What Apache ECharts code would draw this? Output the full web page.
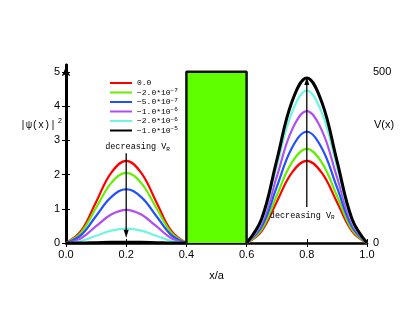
<!DOCTYPE html>
<html lang="en">
<head>
    <meta charset="UTF-8">
    <title>Double well</title>
    <script src="https://cdn.jsdelivr.net/npm/echarts@6/dist/echarts.min.js"></script>
</head>
<body style="margin:0;background:#fff;">
<div id="main" style="width: 415px;height:321px;"></div>
<script type="text/javascript">

    // x positions of the samples in each well
    var leftX  = [0, 0.05, 0.10, 0.15, 0.20, 0.25, 0.30, 0.35, 0.40];
    var rightX = [0.60, 0.65, 0.70, 0.75, 0.80, 0.85, 0.90, 0.95, 1.00];

    // legend labels (V_R values) and colours
    var names  = ['0.0', '-2.0*10^-7', '-5.0*10^-7', '-1.0*10^-6', '-2.0*10^-6', '-1.0*10^-5'];
    var colors = ['#ff0000', '#66ee00', '#2250ff', '#b04ef2', '#72f5df', '#000000'];

    // |psi|^2, left well
    var leftRed    = [0, 0.35, 1.20, 2.05, 2.40, 2.05, 1.20, 0.35, 0];
    var leftGreen  = [0, 0.30, 1.03, 1.75, 2.05, 1.75, 1.03, 0.30, 0];
    var leftBlue   = [0, 0.23, 0.79, 1.34, 1.57, 1.34, 0.79, 0.23, 0];
    var leftPurple = [0, 0.14, 0.49, 0.83, 0.97, 0.83, 0.49, 0.14, 0];
    var leftCyan   = [0, 0.06, 0.21, 0.36, 0.42, 0.36, 0.21, 0.06, 0];
    var leftBlack  = [0, 0.00, 0.01, 0.02, 0.02, 0.02, 0.01, 0.00, 0];

    // right well
    var rightRed    = [0, 0.35, 1.20, 2.05, 2.40, 2.05, 1.20, 0.35, 0];
    var rightGreen  = [0, 0.40, 1.38, 2.35, 2.75, 2.35, 1.38, 0.40, 0];
    var rightBlue   = [0, 0.48, 1.63, 2.77, 3.25, 2.77, 1.63, 0.48, 0];
    var rightPurple = [0, 0.56, 1.93, 3.29, 3.85, 3.29, 1.93, 0.56, 0];
    var rightCyan   = [0, 0.65, 2.23, 3.80, 4.45, 3.80, 2.23, 0.65, 0];
    var rightBlack  = [0, 0.71, 2.41, 4.11, 4.82, 4.11, 2.41, 0.71, 0];

    var leftVals  = [leftRed, leftGreen, leftBlue, leftPurple, leftCyan, leftBlack];
    var rightVals = [rightRed, rightGreen, rightBlue, rightPurple, rightCyan, rightBlack];

    // barrier: from x=0.4 to 0.6, height 500 (right axis)
    var barrierX = [0.4, 0.6];
    var barrierV = 500;

    var mono = '"Liberation Mono", "DejaVu Sans Mono", monospace';
    var sans = '"Liberation Sans", Arial, sans-serif';

    var myChart = echarts.init(document.getElementById('main'));

    var series = [];
    for (var i = 0; i < names.length; i++) {
        var d = [];
        for (var k = 0; k < leftX.length; k++) d.push([leftX[k], leftVals[i][k]]);
        d.push([0.5, '-']);
        for (var k = 0; k < rightX.length; k++) d.push([rightX[k], rightVals[i][k]]);
        series.push({
            name: names[i],
            type: 'line',
            smooth: 0.4,
            symbol: 'none',
            data: d,
            z: 2 + i,
            lineStyle: {color: colors[i], width: i === 5 ? 3 : 2.2},
            itemStyle: {color: colors[i]}
        });
    }

    series.push({
        name: 'barrier',
        type: 'line',
        yAxisIndex: 1,
        symbol: 'none',
        z: 20,
        data: [[barrierX[0], 0], [barrierX[0], barrierV], [barrierX[1], barrierV], [barrierX[1], 0]],
        lineStyle: {color: '#111', width: 2.5},
        areaStyle: {color: '#5fff00', opacity: 1}
    });

    function legendText(n) {
        var p = n.split('^');
        if (p.length === 1) return '{b|' + n + '}';
        return '{b|' + p[0].replace('-', '\u2212') + '}{s|' + p[1].replace('-', '\u2212') + '}';
    }

    myChart.setOption({
        animation: false,
        grid: {left: 66, right: 48, top: 65, bottom: 78},
        legend: {
            data: names,
            orient: 'vertical',
            left: 104,
            top: 74,
            itemWidth: 22,
            itemHeight: 6,
            itemGap: 0.5,
            itemStyle: {opacity: 0},
            formatter: legendText,
            textStyle: {
                rich: {
                    b: {fontFamily: mono, fontSize: 8, color: '#000', lineHeight: 10},
                    s: {fontFamily: mono, fontSize: 6, color: '#000', verticalAlign: 'top', lineHeight: 10}
                }
            }
        },
        xAxis: [{
            type: 'value',
            min: 0, max: 1, interval: 0.2,
            name: 'x/a',
            nameLocation: 'middle',
            nameGap: 27,
            nameTextStyle: {fontFamily: sans, fontSize: 11, color: '#000'},
            axisLine: {lineStyle: {color: '#000', width: 2.5}},
            axisTick: {inside: true, length: 4, lineStyle: {color: '#000'}},
            axisLabel: {
                fontFamily: sans, fontSize: 11, color: '#000', margin: 6,
                formatter: function (v) { return v.toFixed(1); }
            },
            splitLine: {show: false}
        }, {
            type: 'value',
            position: 'top',
            min: 0, max: 1, interval: 0.2,
            axisLine: {lineStyle: {color: '#000', width: 1}},
            axisTick: {inside: true, length: 4, lineStyle: {color: '#000'}},
            axisLabel: {show: false},
            splitLine: {show: false}
        }],
        yAxis: [{
            type: 'value',
            min: 0, max: 5.2, interval: 1,
            axisLine: {show: true, symbol: ['none', 'arrow'], symbolSize: [6, 9], symbolOffset: [0, -2],
                lineStyle: {color: '#000', width: 2.5}},
            axisTick: {inside: true, length: 4, lineStyle: {color: '#000'}},
            axisLabel: {fontFamily: sans, fontSize: 11, color: '#000', margin: 6, showMaxLabel: false},
            splitLine: {show: false}
        }, {
            type: 'value',
            position: 'right',
            min: 0, max: 520, interval: 100,
            axisLine: {show: true, symbol: ['none', 'arrow'], symbolSize: [6, 9], symbolOffset: [0, -2],
                lineStyle: {color: '#000', width: 3}},
            axisTick: {inside: true, length: 4, lineStyle: {color: '#000'}},
            axisLabel: {
                fontFamily: sans, fontSize: 11, color: '#000', margin: 6, showMaxLabel: false,
                formatter: function (v) { return (v === 0 || v === 500) ? String(v) : ''; }
            },
            splitLine: {show: false}
        }],
        series: series
    });

    // annotations: arrows and text placed in data coordinates
    function px(x, y) {
        return myChart.convertToPixel({xAxisIndex: 0, yAxisIndex: 0}, [x, y]);
    }
    function arrow(x, y0, y1) {
        var a = px(x, y0), b = px(x, y1);
        var dir = b[1] > a[1] ? 1 : -1;
        return [{
            type: 'line', z: 30,
            shape: {x1: a[0], y1: a[1], x2: b[0], y2: b[1] - dir * 6},
            style: {stroke: '#000', lineWidth: 1.3}
        }, {
            type: 'polygon', z: 30,
            shape: {points: [[b[0], b[1]], [b[0] - 2.5, b[1] - dir * 8], [b[0] + 2.5, b[1] - dir * 8]]},
            style: {fill: '#000'}
        }];
    }
    function note(x, y) {
        var p = px(x, y);
        return {
            type: 'text', z: 30, x: p[0], y: p[1],
            style: {
                text: '{a|decreasing V}{r|R}',
                verticalAlign: 'middle',
                rich: {
                    a: {fontFamily: mono, fontSize: 8.5, fill: '#000'},
                    r: {fontFamily: mono, fontSize: 6, fill: '#000', verticalAlign: 'bottom', padding: [4, 0, 0, 0]}
                }
            }
        };
    }

    var gfx = [];
    gfx = gfx.concat(arrow(0.2, 2.62, 0.15));
    gfx = gfx.concat(arrow(0.8, 1.05, 4.85));
    gfx.push(note(0.13, 2.80));
    gfx.push(note(0.677, 0.80));
    gfx.push({
        type: 'text', x: 20, y: 125,
        style: {
            text: '{a||\u03c8(x)|}{s|2}',
            verticalAlign: 'middle',
            rich: {
                a: {fontFamily: mono, fontSize: 10, fill: '#000'},
                s: {fontFamily: sans, fontSize: 7, fill: '#000', verticalAlign: 'top', padding: [0, 0, 8, 2]}
            }
        }
    });
    gfx.push({
        type: 'text', x: 374, y: 125,
        style: {text: 'V(x)', fontFamily: sans, fontSize: 11, fill: '#000', verticalAlign: 'middle'}
    });

    myChart.setOption({graphic: gfx});
</script>
</body>
</html>
